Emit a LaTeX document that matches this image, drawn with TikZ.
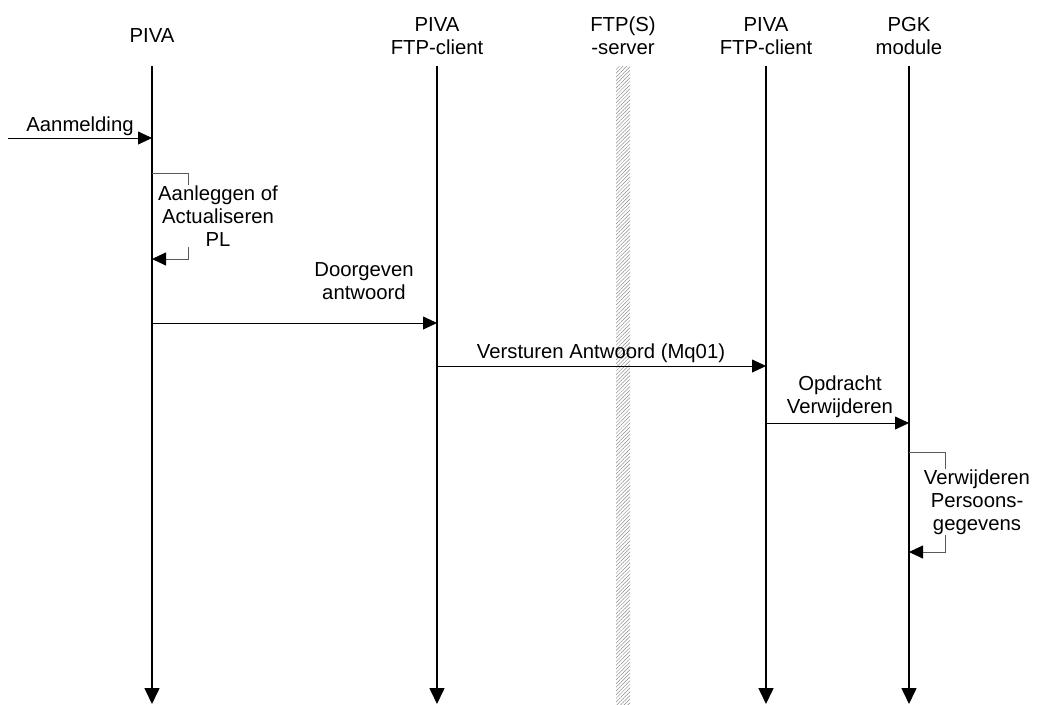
\documentclass[tikz,border=0pt]{standalone}
\usepackage{fontspec}
\setmainfont{Liberation Sans}
\usetikzlibrary{arrows.meta,patterns.meta}
\begin{document}
\begin{tikzpicture}[x=1pt,y=-1pt,
  txt/.style={inner sep=0pt,align=center,font=\fontsize{20.3}{23}\selectfont},
  lifeline/.style={line width=1.6pt,-{Triangle[length=16pt,width=15pt]}},
  msg/.style={line width=0.8pt,-{Triangle[length=14pt,width=13pt]}},
  selfmsg/.style={line width=0.8pt,draw=black!65,-{Triangle[length=14pt,width=13pt,color=black]}}]
\useasboundingbox (0,0) rectangle (1041,704);
% FTP server band
\fill[pattern={Lines[angle=45,distance=2.6pt,line width=0.5pt]},pattern color=black!45] (616,66) rectangle (630,704);
% headers
\node[txt] (h1) at (152,36) {PIVA};
\node[txt] (h2) at (437,36) {PIVA\\FTP-client};
\node[txt] (h3) at (623,36) {FTP(S)\\-server};
\node[txt] (h4) at (766,36) {PIVA\\FTP-client};
\node[txt] (h5) at (909,36) {PGK\\module};
% lifelines
\coordinate (t1) at (152,66); \coordinate (b1) at (152,704);
\coordinate (t2) at (437,66); \coordinate (b2) at (437,704);
\coordinate (t4) at (766,66); \coordinate (b4) at (766,704);
\coordinate (t5) at (909,66); \coordinate (b5) at (909,704);
\draw[lifeline] (t1) -- (b1);
\draw[lifeline] (t2) -- (b2);
\draw[lifeline] (t4) -- (b4);
\draw[lifeline] (t5) -- (b5);
% Aanmelding
\coordinate (a0) at (8,138); \coordinate (a1) at (152,138);
\draw[msg] (a0) -- (a1);
\node[txt] (la) at (80,126) {Aanmelding};
% self message 1
\coordinate (s1a) at (152,173); \coordinate (s1b) at (188,173);
\coordinate (s1c) at (188,259); \coordinate (s1d) at (152,259);
\draw[selfmsg] (s1a) -- (s1b) -- (s1c) -- (s1d);
\node[txt,fill=white,inner ysep=1pt] (ls1) at (218,216) {Aanleggen of\\Actualiseren\\PL};
% Doorgeven antwoord
\coordinate (d0) at (152,323); \coordinate (d1) at (437,323);
\draw[msg] (d0) -- (d1);
\node[txt] (ld) at (364,281) {Doorgeven\\antwoord};
% Versturen Antwoord
\coordinate (v0) at (437,366); \coordinate (v1) at (766,366);
\draw[msg] (v0) -- (v1);
\node[txt] (lv) at (601,353) {Versturen Antwoord (Mq01)};
% Opdracht Verwijderen
\coordinate (o0) at (766,423); \coordinate (o1) at (909,423);
\draw[msg] (o0) -- (o1);
\node[txt] (lo) at (840,397) {Opdracht\\Verwijderen};
% self message 2
\coordinate (s2a) at (909,452); \coordinate (s2b) at (945,452);
\coordinate (s2c) at (945,552); \coordinate (s2d) at (909,552);
\draw[selfmsg] (s2a) -- (s2b) -- (s2c) -- (s2d);
\node[txt,fill=white,inner ysep=1pt] (ls2) at (977,502) {Verwijderen\\Persoons-\\gegevens};
\end{tikzpicture}
\end{document}
